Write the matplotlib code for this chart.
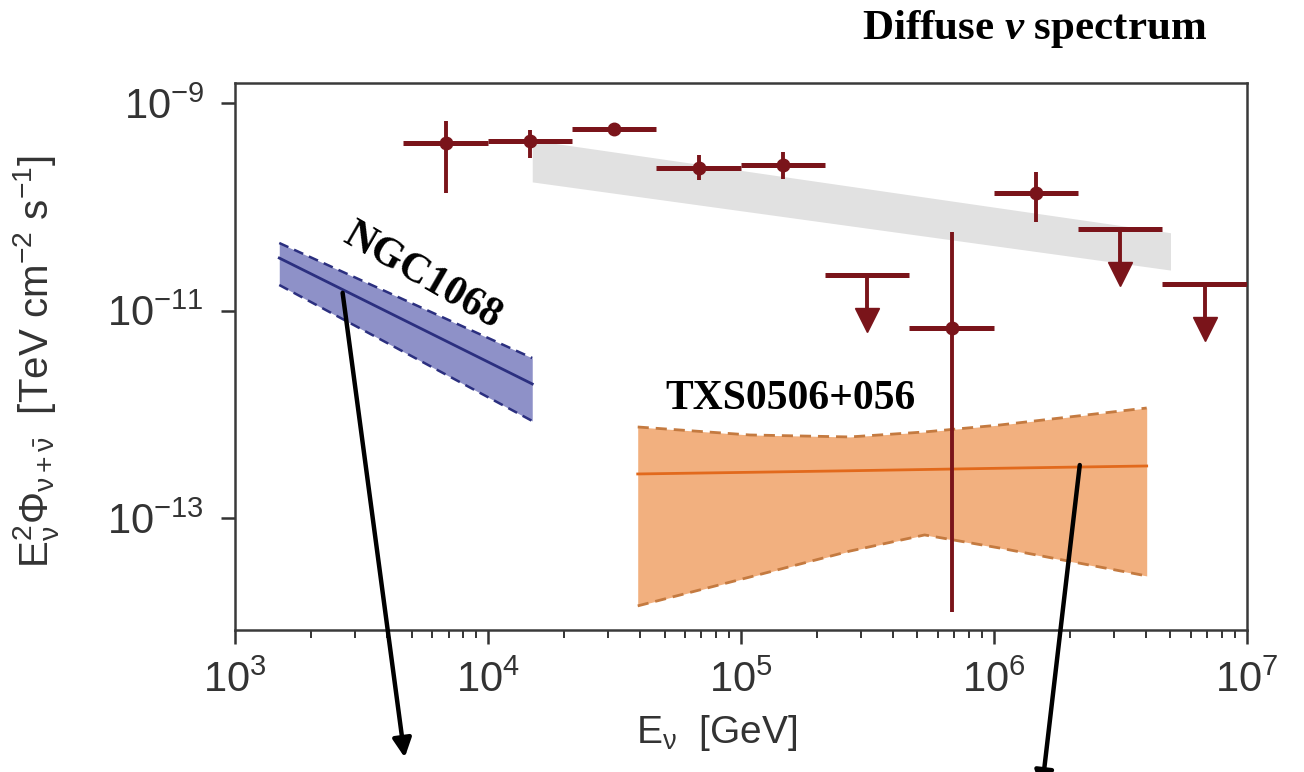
import numpy as np
import matplotlib.pyplot as plt

plt.rcParams["mathtext.fontset"] = "custom"
plt.rcParams["mathtext.rm"] = "Liberation Sans"
plt.rcParams["mathtext.it"] = "Liberation Sans:italic"
plt.rcParams["mathtext.bfit"] = "Liberation Serif:italic:bold"
plt.rcParams["font.family"] = "Liberation Sans"

# diffuse flux points (E in GeV, E^2 flux in TeV cm^-2 s^-1)
bin_edges = 10 ** np.array([3.667, 4.0, 4.333, 4.667, 5.0, 5.333, 5.667, 6.0, 6.333, 6.667, 7.0])
flux = 10 ** np.array([-9.386, -9.366, -9.25, -9.627, -9.598, -10.658, -11.169, -9.867, -10.214, -10.745])
flux_hi = 10 ** np.array([-9.173, -9.26, -9.25, -9.50, -9.472, np.nan, -10.243, -9.665, np.nan, np.nan])
flux_lo = 10 ** np.array([-9.867, -9.53, -9.25, -9.742, -9.733, np.nan, -13.906, -10.147, np.nan, np.nan])
is_limit = np.array([False, False, False, False, False, True, False, False, True, True])

# diffuse power-law band
diff_E = np.array([1.5e4, 5.0e6])
diff_top = 10 ** np.array([-9.357, -10.25])
diff_bot = 10 ** np.array([-9.76, -10.61])

# NGC 1068
ngc_E = np.array([1.5e3, 1.5e4])
ngc_mid = 10 ** np.array([-10.494, -11.708])
ngc_top = 10 ** np.array([-10.349, -11.458])
ngc_bot = 10 ** np.array([-10.754, -12.065])

# TXS 0506+056
txs_E = 10 ** np.array([4.593, 5.036, 5.431, 5.727, 6.024, 6.605])
txs_mid = 10 ** np.array([-12.576, -12.560, -12.545, -12.533, -12.521, -12.499])
txs_top = 10 ** np.array([-12.123, -12.200, -12.219, -12.171, -12.104, -11.940])
txs_bot = 10 ** np.array([-13.848, -13.570, -13.320, -13.164, -13.290, -13.559])

red = "#7a141a"
grey_txt = "#333333"

fig = plt.figure(figsize=(13.04, 7.72), dpi=100)
ax = fig.add_axes([0.180, 0.184, 0.776, 0.708])

ax.fill_between(diff_E, diff_bot, diff_top, color="#e1e1e1", lw=0, zorder=1)

ax.fill_between(ngc_E, ngc_bot, ngc_top, color="#8e91c8", lw=0, zorder=2)
ax.plot(ngc_E, ngc_mid, color="#2b2f7f", lw=2.0, zorder=3)
ax.plot(ngc_E, ngc_top, color="#2b2f7f", lw=1.8, ls=(0, (4, 2.5)), zorder=3)
ax.plot(ngc_E, ngc_bot, color="#2b2f7f", lw=1.8, ls=(0, (4, 2.5)), zorder=3)

ax.fill_between(txs_E, txs_bot, txs_top, color="#f2b07f", lw=0, zorder=2)
ax.plot(txs_E, txs_mid, color="#e2691c", lw=2.0, zorder=3)
ax.plot(txs_E, txs_top, color="#c47a40", lw=2.0, ls=(0, (4, 2.5)), zorder=3)
ax.plot(txs_E, txs_bot, color="#c47a40", lw=2.0, ls=(0, (4, 2.5)), zorder=3)

E_c = np.sqrt(bin_edges[:-1] * bin_edges[1:])
xerr = np.vstack([E_c - bin_edges[:-1], bin_edges[1:] - E_c])
yerr = np.vstack([flux - flux_lo, flux_hi - flux])

m = ~is_limit
ax.errorbar(E_c[m], flux[m], xerr=xerr[:, m], fmt="none", ecolor=red, elinewidth=3.6, zorder=5)
ax.errorbar(E_c[m], flux[m], yerr=yerr[:, m], fmt="o", color=red, ms=9, elinewidth=2.8, zorder=6)

# upper limits
ax.errorbar(E_c[is_limit], flux[is_limit], xerr=xerr[:, is_limit], fmt="none", ecolor=red, elinewidth=3.6, zorder=5)
arrow_drop = 10 ** -0.43
for e, f in zip(E_c[is_limit], flux[is_limit]):
    ax.plot([e, e], [f, f * arrow_drop], color=red, lw=2.8, zorder=5)
    ax.plot(e, f * arrow_drop, marker="v", ms=17, color=red, zorder=6)

ax.set_xscale("log")
ax.set_yscale("log")
ax.set_xlim(1e3, 1e7)
ax.set_ylim(10 ** -14.08, 10 ** -8.81)
ax.set_yticks([1e-9, 1e-11, 1e-13])
ax.yaxis.set_minor_locator(plt.NullLocator())

for s in ax.spines.values():
    s.set_color("#3a3a3a")
    s.set_linewidth(1.8)
ax.tick_params(axis="both", which="major", labelsize=30, colors=grey_txt, length=10, width=1.8, pad=12)
ax.tick_params(axis="x", which="minor", length=6, width=1.4, colors=grey_txt)

ax.set_xlabel(r"E$_\mathrm{\nu}$  [GeV]", fontsize=28, color=grey_txt)
ax.xaxis.set_label_coords(0.476, -0.152)
ax.set_ylabel(r"E$_\mathrm{\nu}^2\Phi_{\mathrm{\nu}+\bar{\mathrm{\nu}}}$  [TeV cm$^{-2}$ s$^{-1}$]",
              fontsize=29, color=grey_txt)
ax.yaxis.set_label_coords(-0.172, 0.49)

serif = dict(family="Liberation Serif", weight="bold", color="black")
ax.text(5.5e3, 2.15e-11, "NGC1068", fontsize=30, rotation=-30, ha="center", va="center", **serif)
ax.text(1.58e5, 1.4e-12, "TXS0506+056", fontsize=30, ha="center", va="center", **serif)
fig.text(0.793, 0.962, r"Diffuse $\mathbfit{\nu}$ spectrum", fontsize=31, ha="center", va="center", **serif)

arrow = dict(arrowstyle="-|>", lw=3.2, color="black", mutation_scale=28, shrinkA=0, shrinkB=0)
ax.annotate("", xy=(4.7e3, 10 ** -15.31), xytext=(2.67e3, 10 ** -10.83), arrowprops=arrow, annotation_clip=False)
ax.annotate("", xy=(1.55e6, 10 ** -15.62), xytext=(2.19e6, 10 ** -12.49), arrowprops=arrow, annotation_clip=False)

fig.savefig("out.png", dpi=100)
